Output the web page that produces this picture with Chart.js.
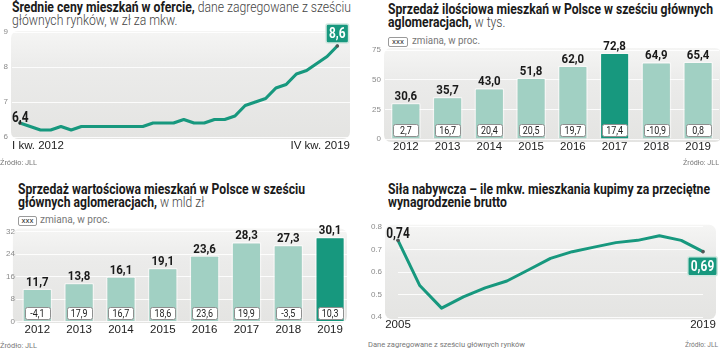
<!DOCTYPE html>
<html><head><meta charset="utf-8">
<script src="https://cdn.jsdelivr.net/npm/chart.js@4/dist/chart.umd.min.js"></script>
<style>
html,body{margin:0;padding:0;background:#fff;}
#root{position:relative;width:720px;height:351px;overflow:hidden;font-family:Roboto,"Liberation Sans",sans-serif;}
.t{position:absolute;font-size:14.5px;line-height:12.8px;color:#1a1a1a;white-space:nowrap;transform-origin:0 0;}
.t b{font-weight:bold;}
.t span.r{color:#444;font-weight:300;}
canvas{position:absolute;}
.src{position:absolute;font-size:8px;line-height:9px;color:#777;white-space:nowrap;transform-origin:0 0;}
.lbox{position:absolute;border:1px solid #9a9a9a;border-radius:2px;font-size:8px;line-height:8px;text-align:center;color:#333;background:#fff;}
.ltxt{position:absolute;font-size:10.5px;line-height:10px;color:#777;white-space:nowrap;transform-origin:0 0;}
</style></head>
<body>
<div id="root">
  <div class="t fit" data-w="339" style="left:12px;top:2px;"><span class="l1"><b>Średnie ceny mieszkań w ofercie,</b><span class="r"> dane zagregowane z sześciu</span></span><br><span class="r">głównych rynków, w zł za mkw.</span></div>
  <div class="t fit" data-w="325" style="left:388px;top:4px;"><span class="l1"><b>Sprzedaż ilościowa mieszkań w Polsce w sześciu głównych</b></span><br><b>aglomeracjach,</b><span class="r"> w tys.</span></div>
  <div class="t fit" data-w="287" style="left:18px;top:184px;"><span class="l1"><b>Sprzedaż wartościowa mieszkań w Polsce w sześciu</b></span><br><b>głównych aglomeracjach,</b><span class="r"> w mld zł</span></div>
  <div class="t fit" data-w="322" style="left:388px;top:184px;"><span class="l1"><b>Siła nabywcza – ile mkw. mieszkania kupimy za przeciętne</b></span><br><b>wynagrodzenie brutto</b></div>

  <div class="lbox" style="left:388px;top:37px;width:18px;height:8px;">xxx</div>
  <div class="ltxt fit" data-w="68" style="left:412px;top:36px;"><span class="l1">zmiana, w proc.</span></div>
  <div class="lbox" style="left:18px;top:216px;width:17px;height:8px;">xxx</div>
  <div class="ltxt fit" data-w="70" style="left:40px;top:215px;"><span class="l1">zmiana, w proc.</span></div>

  <canvas id="c1" width="360" height="146" style="left:0;top:18px;"></canvas>
  <canvas id="c2" width="360" height="134" style="left:360px;top:30px;"></canvas>
  <canvas id="c3" width="360" height="127" style="left:0;top:210px;"></canvas>
  <canvas id="c4" width="360" height="132" style="left:360px;top:206px;"></canvas>

  <div class="src fit" data-w="37" style="left:0;top:158px;"><span class="l1">Źródło: JLL</span></div>
  <div class="src fit" data-w="36" style="left:683px;top:158px;"><span class="l1">Źródło: JLL</span></div>
  <div class="src fit" data-w="37" style="left:0;top:341px;"><span class="l1">Źródło: JLL</span></div>
  <div class="src fit" data-w="157" style="left:368px;top:340px;"><span class="l1">Dane zagregowane z sześciu głównych rynków</span></div>
  <div class="src fit" data-w="33" style="left:685px;top:340px;"><span class="l1">Źródło: JLL</span></div>
</div>
<script>
// ---------- DATA ----------
const priceQuarters = ['I kw. 2012','II kw. 2012','III kw. 2012','IV kw. 2012',
  'I kw. 2013','II kw. 2013','III kw. 2013','IV kw. 2013',
  'I kw. 2014','II kw. 2014','III kw. 2014','IV kw. 2014',
  'I kw. 2015','II kw. 2015','III kw. 2015','IV kw. 2015',
  'I kw. 2016','II kw. 2016','III kw. 2016','IV kw. 2016',
  'I kw. 2017','II kw. 2017','III kw. 2017','IV kw. 2017',
  'I kw. 2018','II kw. 2018','III kw. 2018','IV kw. 2018',
  'I kw. 2019','II kw. 2019','III kw. 2019','IV kw. 2019'];
const priceValues = [6.4,6.3,6.2,6.2,6.3,6.2,6.3,6.3,6.3,6.3,6.3,6.3,6.3,6.4,6.4,6.4,
  6.5,6.4,6.4,6.5,6.5,6.6,6.9,7.0,7.1,7.4,7.5,7.8,7.9,8.1,8.3,8.6];

const salesYears = ['2012','2013','2014','2015','2016','2017','2018','2019'];
const salesVolume = [30.6,35.7,43.0,51.8,62.0,72.8,64.9,65.4];       // tys.
const salesVolumeChange = [2.7,16.7,20.4,20.5,19.7,17.4,-10.9,0.8];  // %
const salesValue = [11.7,13.8,16.1,19.1,23.6,28.3,27.3,30.1];         // mld zł
const salesValueChange = [-4.1,17.9,16.7,18.6,23.6,19.9,-3.5,10.3];   // %

const powerYears = ['2005','2006','2007','2008','2009','2010','2011','2012','2013','2014','2015','2016','2017','2018','2019'];
const powerValues = [0.74,0.54,0.44,0.49,0.53,0.56,0.61,0.66,0.69,0.71,0.73,0.74,0.76,0.74,0.69];

const priceTicks = [6,7,8,9];
const volumeTicks = [0,25,50,75];
const valueTicks = [0,8,16,24,32];
const powerTicks = [0.4,0.5,0.6,0.7,0.8];

// ---------- fit HTML text widths ----------
document.querySelectorAll('.fit').forEach(el => {
  const l1 = el.querySelector('.l1') || el;
  const w = l1.getBoundingClientRect().width;
  if (w > 0) el.style.transform = 'scaleX(' + (parseFloat(el.dataset.w) / w) + ')';
});

// ---------- STYLE ----------
const SANS = '"Liberation Sans",Arial,sans-serif';
const COND = 'Roboto,"Liberation Sans",sans-serif';
const GREEN = '#17987e';
const LIGHT = '#a1d0c3';
const fmt1 = v => v.toFixed(1).replace('.', ',');

const bgPlugin = {
  id: 'panelBg',
  beforeDraw(chart, args, o) {
    const {ctx, chartArea: a} = chart;
    const x = a.left - o.l, y = a.top - o.t, w = a.right + o.r - x, h = a.bottom + o.b - y;
    const g = ctx.createLinearGradient(0, y, 0, y + h);
    g.addColorStop(0, '#f5f5f4'); g.addColorStop(0.35, '#ebebea'); g.addColorStop(1, '#e4e4e2');
    ctx.save(); ctx.fillStyle = g; ctx.beginPath(); ctx.roundRect(x, y, w, h, 7); ctx.fill(); ctx.restore();
  }
};

function roundBox(ctx, x, y, w, h, fill, stroke, lw) {
  ctx.beginPath(); ctx.roundRect(x, y, w, h, 2);
  ctx.fillStyle = fill; ctx.fill();
  ctx.lineWidth = lw; ctx.strokeStyle = stroke; ctx.stroke();
}
// horizontally condensed text
const SQ = 0.85;
function condText(ctx, text, x, y) {
  ctx.save(); ctx.translate(x, y); ctx.scale(SQ, 1); ctx.fillText(text, 0, 0); ctx.restore();
}

const barLabels = {
  id: 'barLabels',
  afterDatasetsDraw(chart, args, o) {
    const ctx = chart.ctx, meta = chart.getDatasetMeta(0);
    const vals = chart.data.datasets[0].data;
    const base = chart.scales.y.getPixelForValue(0);
    meta.data.forEach((bar, i) => {
      ctx.save();
      ctx.textAlign = 'center';
      ctx.font = 'bold 13.5px ' + COND; ctx.fillStyle = '#1a1a1a'; ctx.textBaseline = 'alphabetic';
      condText(ctx, fmt1(vals[i]), bar.x, bar.y - 2.5);
      const bw = 25, bh = 12, bx = Math.round(bar.x - bw / 2) + 0.5, by = Math.round(base - 3 - bh) + 0.5;
      roundBox(ctx, bx, by, bw, bh, '#fff', '#8f8f8f', 1);
      ctx.fillStyle = '#222'; ctx.font = '10.5px ' + COND; ctx.textBaseline = 'middle';
      condText(ctx, fmt1(o.changes[i]), bar.x, by + bh / 2 + 0.5);
      ctx.restore();
    });
  }
};

const lineLabels = {
  id: 'lineLabels',
  afterDatasetsDraw(chart, args, o) {
    const ctx = chart.ctx, pts = chart.getDatasetMeta(0).data;
    const first = pts[0], last = pts[pts.length - 1];
    ctx.save();
    ctx.font = 'bold 14px ' + COND; ctx.fillStyle = '#1a1a1a';
    ctx.textAlign = o.firstAlign; ctx.textBaseline = 'alphabetic';
    condText(ctx, o.text(o.values[0]), first.x + o.fdx, first.y + o.fdy);
    const t = o.text(o.values[o.values.length - 1]);
    const tw = ctx.measureText(t).width * SQ + 6, th = 19;
    const bx = last.x + o.ldx - tw / 2, by = last.y + o.ldy;
    roundBox(ctx, bx, by, tw, th, GREEN, '#cfe7df', 1.5);
    ctx.fillStyle = '#fff'; ctx.textAlign = 'center'; ctx.textBaseline = 'middle';
    condText(ctx, t, bx + tw / 2, by + th / 2 + 1);
    ctx.restore();
  }
};

const yTickFont = {family: SANS, size: 8};
const xTickFont = {family: SANS, size: 11.5};
const gridStyle = {color: 'rgba(255,255,255,0.85)', lineWidth: 1, drawTicks: false};
const noGrid = {display: false, drawTicks: false};

function fixedTicks(list) {
  return scale => { scale.ticks = list.map(v => ({value: v})); };
}

// ---------- CHART 1: prices ----------
new Chart(document.getElementById('c1'), {
  type: 'line',
  data: {
    datasets: [{
      data: priceValues.map((v, i) => ({x: i, y: v})),
      borderColor: GREEN, borderWidth: 3.2, tension: 0, borderJoinStyle: 'round', borderCapStyle: 'round',
      pointRadius: c => (c.dataIndex === 0 || c.dataIndex === priceValues.length - 1) ? 1.8 : 0,
      pointBackgroundColor: '#555', pointBorderWidth: 0
    }]
  },
  options: {
    responsive: false, animation: false, events: [],
    layout: {padding: {left: 0, right: 10, top: 14, bottom: 0}},
    plugins: {legend: {display: false}, tooltip: {enabled: false},
      panelBg: {l: 1, r: 0, t: 1, b: 2},
      lineLabels: {values: priceValues, text: fmt1, firstAlign: 'left', fdx: -8, fdy: -1.5, ldx: 0, ldy: -22}},
    scales: {
      x: {type: 'linear', min: -0.78, max: 32.24,
        afterBuildTicks: scale => { scale.ticks = [{value: scale.min}, {value: scale.max}]; },
        afterFit: s => { s.height = 27; },
        grid: noGrid, border: {display: false},
        ticks: {align: 'inner', padding: 2, color: '#222', font: xTickFont, maxRotation: 0,
          callback: (v, i) => i === 0 ? priceQuarters[0] : priceQuarters[priceQuarters.length - 1]}},
      y: {min: 6, max: 9, afterBuildTicks: fixedTicks(priceTicks),
        afterFit: s => { s.width = 12; },
        grid: gridStyle, border: {display: false},
        ticks: {padding: 4, color: '#8a8a8a', font: yTickFont}}
    }
  },
  plugins: [bgPlugin, lineLabels]
});

// ---------- bar chart factory ----------
function barChart(id, values, changes, ticks, max, highlight, cfg) {
  new Chart(document.getElementById(id), {
    type: 'bar',
    data: {labels: salesYears, datasets: [{
      data: values,
      backgroundColor: values.map((v, i) => i === highlight ? GREEN : LIGHT),
      borderColor: 'rgba(255,255,255,0.5)', borderWidth: 1.5, borderRadius: 2, borderSkipped: 'start',
      categoryPercentage: 1, barPercentage: 0.72
    }]},
    options: {
      responsive: false, animation: false, events: [],
      layout: {padding: cfg.padding},
      plugins: {legend: {display: false}, tooltip: {enabled: false},
        panelBg: cfg.bg, barLabels: {changes}},
      scales: {
        x: {grid: noGrid, border: {display: false},
          afterFit: s => { s.height = cfg.xh; },
          ticks: {padding: 1, color: '#222', font: xTickFont, maxRotation: 0, autoSkip: false}},
        y: {min: 0, max, afterBuildTicks: fixedTicks(ticks),
          afterFit: s => { s.width = cfg.yw; },
          grid: gridStyle, border: {display: false},
          ticks: {padding: cfg.ypad, color: '#8a8a8a', font: yTickFont}}
      }
    },
    plugins: [bgPlugin, barLabels]
  });
}

// ---------- CHART 2: volume ----------
barChart('c2', salesVolume, salesVolumeChange, volumeTicks, 75, 5,
  {padding: {left: 0, right: 1, top: 20, bottom: 0}, xh: 25, yw: 25, ypad: 4, bg: {l: 1, r: 3, t: 2, b: 3}});

// ---------- CHART 3: value ----------
barChart('c3', salesValue, salesValueChange, valueTicks, 32, 7,
  {padding: {left: 0, right: 9, top: 21.5, bottom: 0}, xh: 15.5, yw: 16.4, ypad: 1.5, bg: {l: 3.5, r: -4, t: 3, b: 1.5}});

// ---------- CHART 4: purchasing power ----------
new Chart(document.getElementById('c4'), {
  type: 'line',
  data: {labels: powerYears, datasets: [{
    data: powerValues,
    borderColor: GREEN, borderWidth: 3, tension: 0, borderJoinStyle: 'round', borderCapStyle: 'round',
    pointRadius: c => (c.dataIndex === 0 || c.dataIndex === powerValues.length - 1) ? 1.8 : 0,
    pointBackgroundColor: '#555', pointBorderWidth: 0
  }]},
  options: {
    responsive: false, animation: false, events: [],
    layout: {padding: {left: 0, right: 17, top: 7, bottom: 0}},
    plugins: {legend: {display: false}, tooltip: {enabled: false},
      panelBg: {l: 13, r: 13, t: 2, b: 2},
      lineLabels: {values: powerValues, text: v => v.toFixed(2).replace('.', ','), firstAlign: 'center', fdx: 0, fdy: -2.5, ldx: -0.5, ldy: 5}},
    scales: {
      x: {grid: noGrid, border: {display: false},
        afterFit: s => { s.height = 17; },
        ticks: {padding: 1, color: '#222', font: xTickFont, maxRotation: 0, autoSkip: false,
          callback: (v, i) => (i === 0 || i === powerYears.length - 1) ? powerYears[i] : ''}},
      y: {min: 0.4, max: 0.8, afterBuildTicks: fixedTicks(powerTicks),
        afterFit: s => { s.width = 38; },
        grid: gridStyle, border: {display: false},
        ticks: {padding: 16, color: '#8a8a8a', font: yTickFont, callback: v => v.toFixed(1)}}
    }
  },
  plugins: [bgPlugin, lineLabels]
});
</script>
</body></html>
